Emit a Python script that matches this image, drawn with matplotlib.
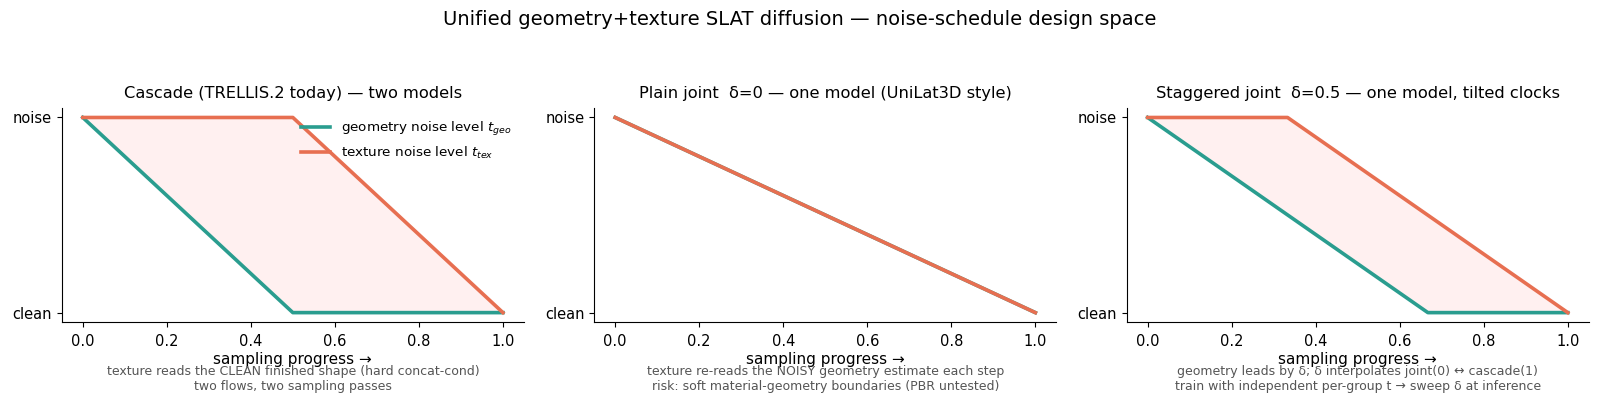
import numpy as np
import matplotlib
matplotlib.use('Agg')
import matplotlib.pyplot as plt

# vertices of the piecewise-linear schedules (progress, noise level)
casc_geo_x = [0.0, 0.5, 1.0]
casc_geo_y = [1.0, 0.0, 0.0]
casc_tex_x = [0.0, 0.5, 1.0]
casc_tex_y = [1.0, 1.0, 0.0]

joint_geo_x = [0.0, 1.0]
joint_geo_y = [1.0, 0.0]
joint_tex_x = [0.0, 1.0]
joint_tex_y = [1.0, 0.0]

stag_geo_x = [0.0, 0.667, 1.0]
stag_geo_y = [1.0, 0.0, 0.0]
stag_tex_x = [0.0, 0.333, 1.0]
stag_tex_y = [1.0, 1.0, 0.0]

titles = ['Cascade (TRELLIS.2 today) — two models',
          'Plain joint  δ=0 — one model (UniLat3D style)',
          'Staggered joint  δ=0.5 — one model, tilted clocks']
captions = ['texture reads the CLEAN finished shape (hard concat-cond)\ntwo flows, two sampling passes',
            'texture re-reads the NOISY geometry estimate each step\nrisk: soft material-geometry boundaries (PBR untested)',
            'geometry leads by δ; δ interpolates joint(0) ↔ cascade(1)\ntrain with independent per-group t → sweep δ at inference']

GEO = '#2a9d8f'
TEX = '#e76f51'

panels = [(casc_geo_x, casc_geo_y, casc_tex_x, casc_tex_y),
          (joint_geo_x, joint_geo_y, joint_tex_x, joint_tex_y),
          (stag_geo_x, stag_geo_y, stag_tex_x, stag_tex_y)]

fig, axes = plt.subplots(1, 3, figsize=(16, 4.05), dpi=100)
fig.subplots_adjust(left=0.0386, right=0.993, top=0.734, bottom=0.204, wspace=0.152)

for i, ax in enumerate(axes):
    gx, gy, tx, ty = panels[i]
    grid = np.linspace(0, 1, 601)
    g = np.interp(grid, gx, gy)
    t = np.interp(grid, tx, ty)
    ax.fill_between(grid, g, t, color='red', alpha=0.06, linewidth=0)
    ax.plot(gx, gy, color=GEO, lw=2.6, label='geometry noise level $t_{geo}$')
    ax.plot(tx, ty, color=TEX, lw=2.6, label='texture noise level $t_{tex}$')
    ax.set_yticks([0, 1])
    ax.set_yticklabels(['clean', 'noise'], fontsize=10.5)
    ax.tick_params(axis='x', labelsize=10.5, pad=5)
    ax.set_xlim(-0.05, 1.05)
    ax.set_ylim(-0.05, 1.05)
    ax.set_xlabel('sampling progress →', fontsize=11, labelpad=2)
    ax.set_title(titles[i], fontsize=11.7, pad=7)
    ax.spines['top'].set_visible(False)
    ax.spines['right'].set_visible(False)
    ax.text(0.5, -0.2, captions[i], transform=ax.transAxes, ha='center', va='top',
            fontsize=9, color='#555555', linespacing=1.15)
    if i == 0:
        ax.legend(loc='upper right', frameon=False, fontsize=9.7, handlelength=2.2)

fig.suptitle('Unified geometry+texture SLAT diffusion — noise-schedule design space', fontsize=14, y=0.975)
plt.savefig('out.png', dpi=100)
